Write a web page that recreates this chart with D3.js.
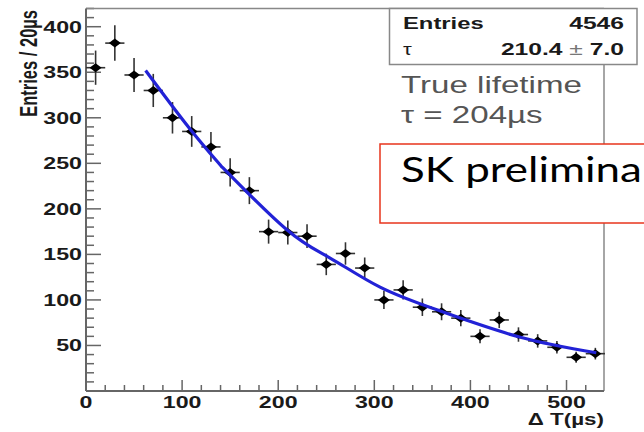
<!DOCTYPE html>
<html><head><meta charset="utf-8">
<script src="https://cdn.jsdelivr.net/npm/d3@7"></script>
<style>html,body{margin:0;padding:0;background:#fff;overflow:hidden}</style>
</head><body>
<svg id="c" width="644" height="432"></svg>
<script>
// ---- data ----
const binCenters = [10,30,50,70,90,110,130,150,170,190,210,230,250,270,290,310,330,350,370,390,410,430,450,470,490,510,530];
const counts     = [355,382,347,330,300,285,268,240,220,175,174,170,139,151,135,100,111,92,87,80,60,78,62,55,48,37,41];
const errors     = [18.8,19.5,18.6,18.2,17.3,16.9,16.4,15.5,14.8,13.2,13.2,13.0,11.8,12.3,11.6,10.0,10.5,9.6,9.3,8.9,7.7,8.9,7.9,7.4,6.9,6.1,6.4];
const binHalfWidth = 10;
const fitT = [62,108,139,150,209,254,306,368,452,531];
const fitV = [352,288,249,237,177,146,114,88,59,42];
const xTicks = [0,100,200,300,400,500];
const yTicks = [50,100,150,200,250,300,350,400];
const statLabels = ["Entries","τ"];
const statValues = ["4546","210.4"];
const statErr = "7.0";
const noteLines = ["True lifetime","τ = 204µs"];
const stampText = "SK prelimina";
const xTitle = "Δ T(µs)";
const yTitle = "Entries / 20µs";

const svg = d3.select("#c");
const x = d3.scaleLinear().domain([0,539]).range([86,604]);
const y = d3.scaleLinear().domain([0,420]).range([391,8.5]);
const axisCol = "#666";
const SX = 1.45;
const FONT = "Liberation Sans, Arial, sans-serif";

function txt(g, px, py, s, o){
  o = o||{};
  return g.append("text")
    .attr("transform", `translate(${px},${py}) scale(${o.sx||SX},1)`)
    .attr("font-family", o.family||FONT)
    .attr("font-size", o.size||15)
    .attr("font-weight", o.weight||"bold")
    .attr("fill", o.fill||"#1a1a1a")
    .attr("text-anchor", o.anchor||"start")
    .text(s);
}

// ticks
const gA = svg.append("g");
d3.range(10,421,10).forEach(v=>{
  const major = v%50===0;
  gA.append("line").attr("x1",x(0)).attr("x2",x(0)+(major?15:8))
    .attr("y1",y(v)).attr("y2",y(v)).attr("stroke",axisCol).attr("stroke-width",1.5);
});
d3.range(20,539,20).forEach(v=>{
  const major = v%100===0;
  gA.append("line").attr("y1",y(0)).attr("y2",y(0)-(major?11:6))
    .attr("x1",x(v)).attr("x2",x(v)).attr("stroke",axisCol).attr("stroke-width",1.5);
});
// frame
gA.append("line").attr("x1",x(539)).attr("x2",x(539)).attr("y1",y(420)).attr("y2",y(0)).attr("stroke","#888").attr("stroke-width",1.5);
gA.append("line").attr("x1",x(0)).attr("x2",x(539)).attr("y1",y(420)).attr("y2",y(420)).attr("stroke","#888").attr("stroke-width",1.5);
gA.append("line").attr("x1",x(0)).attr("x2",x(0)).attr("y1",y(420)).attr("y2",y(0)).attr("stroke",axisCol).attr("stroke-width",2);
gA.append("line").attr("x1",x(0)).attr("x2",x(539)).attr("y1",y(0)).attr("y2",y(0)).attr("stroke",axisCol).attr("stroke-width",2);

// tick labels
yTicks.forEach(v=> txt(svg, 82, y(v)+6, String(v), {size:16, anchor:"end"}));
xTicks.forEach(v=> txt(svg, x(v), 408, String(v), {size:16, anchor:"middle"}));
txt(svg, 604, 425, xTitle, {size:16, anchor:"end", sx:1.4});
svg.append("text")
  .attr("transform",`translate(37,10) rotate(-90) scale(1,1.45)`)
  .attr("font-family",FONT).attr("font-size",16.5).attr("font-weight","bold")
  .attr("fill","#1a1a1a").attr("text-anchor","end").text(yTitle);

// error bars + markers
const gP = svg.append("g");
binCenters.forEach((t,i)=>{
  const cx = x(t), cy = y(counts[i]);
  gP.append("line").attr("x1",cx).attr("x2",cx).attr("y1",y(counts[i]+errors[i])).attr("y2",y(counts[i]-errors[i]))
    .attr("stroke","#333").attr("stroke-width",1.6);
  gP.append("line").attr("x1",x(t-binHalfWidth)).attr("x2",x(t+binHalfWidth)).attr("y1",cy).attr("y2",cy)
    .attr("stroke","#333").attr("stroke-width",1.6);
  gP.append("path").attr("d",`M${cx-6},${cy} L${cx},${cy-4.5} L${cx+6},${cy} L${cx},${cy+4.5} Z`).attr("fill","#000");
});

// fit curve
svg.append("path").datum(fitT.map((t,i)=>[t,fitV[i]]))
  .attr("d", d3.line().x(d=>x(d[0])).y(d=>y(d[1])).curve(d3.curveNatural))
  .attr("fill","none").attr("stroke","#2222d6").attr("stroke-width",3.2);

// stat box
svg.append("rect").attr("x",389.5).attr("y",8.5).attr("width",247.5).attr("height",56)
  .attr("fill","#fff").attr("stroke","#888").attr("stroke-width",1.5);
txt(svg, 403, 29, statLabels[0], {size:17, sx:1.4});
txt(svg, 624, 29, statValues[0], {size:17, anchor:"end", sx:1.45});
txt(svg, 403, 55, statLabels[1], {size:17, weight:"normal", sx:1.3});
const tv = txt(svg, 624, 55, "", {size:17, anchor:"end", sx:1.45});
tv.append("tspan").text(statValues[1] + " ");
tv.append("tspan").attr("font-weight","normal").attr("fill","#777").text("±");
tv.append("tspan").text(" " + statErr);

// note
txt(svg, 401, 93, noteLines[0], {size:23, weight:"normal", fill:"#555", sx:1.44});
txt(svg, 401, 123, noteLines[1], {size:23, weight:"normal", fill:"#555", sx:1.44});

// stamp
svg.append("rect").attr("x",380).attr("y",144).attr("width",290).attr("height",79)
  .attr("fill","#fff").attr("stroke","#e8341c").attr("stroke-width",1.5);
const st = svg.append("text").attr("x",0).attr("y",0)
  .attr("font-family","Lato, Open Sans, sans-serif").attr("font-size",35).attr("fill","#000").text(stampText);
const w = st.node().getComputedTextLength();
st.attr("transform",`translate(401,182) scale(${241/w},1)`);
</script>
</body></html>
